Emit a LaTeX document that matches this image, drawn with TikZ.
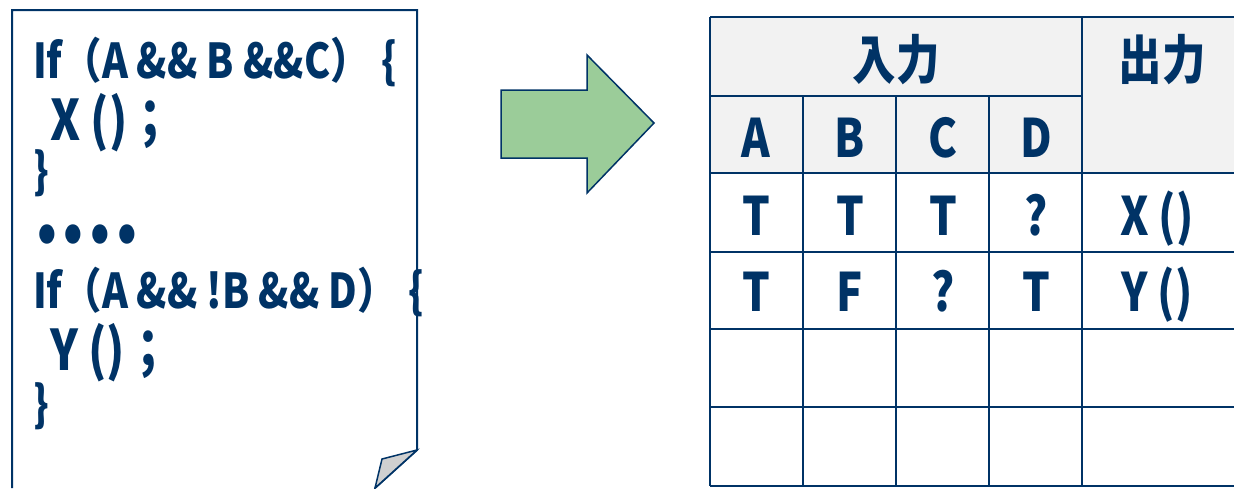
\documentclass[tikz,border=0pt]{standalone}
\usepackage{fontspec}
\newfontfamily\gothic{Noto Sans CJK JP}[FakeStretch=0.82]
\usetikzlibrary{calc}

\definecolor{navy}{RGB}{0,51,102}
\definecolor{arrowgreen}{RGB}{155,204,153}
\definecolor{headgray}{RGB}{242,242,242}
\definecolor{foldgray}{RGB}{208,208,208}

\begin{document}
\begin{tikzpicture}[x=1pt, y=-1pt,
    code/.style={anchor=base west, inner sep=0pt, text=navy, font=\gothic\bfseries\fontsize{48}{48}\selectfont},
    call/.style={code, font=\gothic\bfseries\fontsize{56}{56}\selectfont},
    cell/.style={anchor=base, inner sep=0pt, text=navy, font=\gothic\bfseries\fontsize{53}{53}\selectfont},
    grid/.style={navy, line width=2.6pt}]

    \useasboundingbox (0,0) rectangle (1234,488);

    % Source page with folded corner
    \draw[navy, line width=2pt] (375,488) -- (417,450) -- (417,10) -- (12,10) -- (12,488);
    \draw[navy, line width=1.5pt, fill=foldgray] (417,450) -- (382,459) -- (375,488) -- cycle;

    % Code lines
    \node[code] (cond1) at (33,78) {If（A \&\& B \&\&C）\hspace{12pt}\{};
    \node[call] (callx) at (50,140) {X ()；};
    \node[code] (close1) at (33,188) {\}};
    \node[code, font=\gothic\bfseries\fontsize{60}{60}\selectfont] (dots) at (37,252)
        {•\hspace{7pt}•\hspace{7pt}•\hspace{7pt}•};
    \node[code] (cond2) at (33,308) {If（A \&\& !B \&\& D）\hspace{12pt}\{};
    \node[call] (cally) at (50,370) {Y ()；};
    \node[code] (close2) at (33,421) {\}};

    % Arrow
    \draw[navy, line width=1.5pt, fill=arrowgreen]
        (501,90) -- (587,90) -- (587,55) -- (654,123) -- (587,193) -- (587,158) -- (501,158) -- cycle;

    % Table header
    \fill[headgray] (710,17) rectangle (1250,173);
    \draw[grid] (710,17) -- (1250,17);
    \draw[grid] (710,96) -- (1082,96);
    \foreach \y in {173,252,329,407,486}
        \draw[grid] (710,\y) -- (1250,\y);
    \foreach \x in {710,1082}
        \draw[grid] (\x,17) -- (\x,486);
    \foreach \x in {803,896,989}
        \draw[grid] (\x,96) -- (\x,486);

    % Header text
    \node[cell, anchor=center] (input) at (896,60) {入力};
    \node[cell, anchor=center] (output) at (1162,60) {出力};
    \node[cell] (colA) at (756,157) {A};
    \node[cell] (colB) at (850,157) {B};
    \node[cell] (colC) at (943,157) {C};
    \node[cell] (colD) at (1036,157) {D};

    % Rows
    \node[cell] (a1) at (756,235) {T};
    \node[cell] (b1) at (850,235) {T};
    \node[cell] (c1) at (943,235) {T};
    \node[cell] (d1) at (1036,235) {?};
    \node[cell] (out1) at (1157,235) {X ()};
    \node[cell] (a2) at (756,311) {T};
    \node[cell] (b2) at (850,311) {F};
    \node[cell] (c2) at (943,311) {?};
    \node[cell] (d2) at (1036,311) {T};
    \node[cell] (out2) at (1157,311) {Y ()};

\end{tikzpicture}
\end{document}
